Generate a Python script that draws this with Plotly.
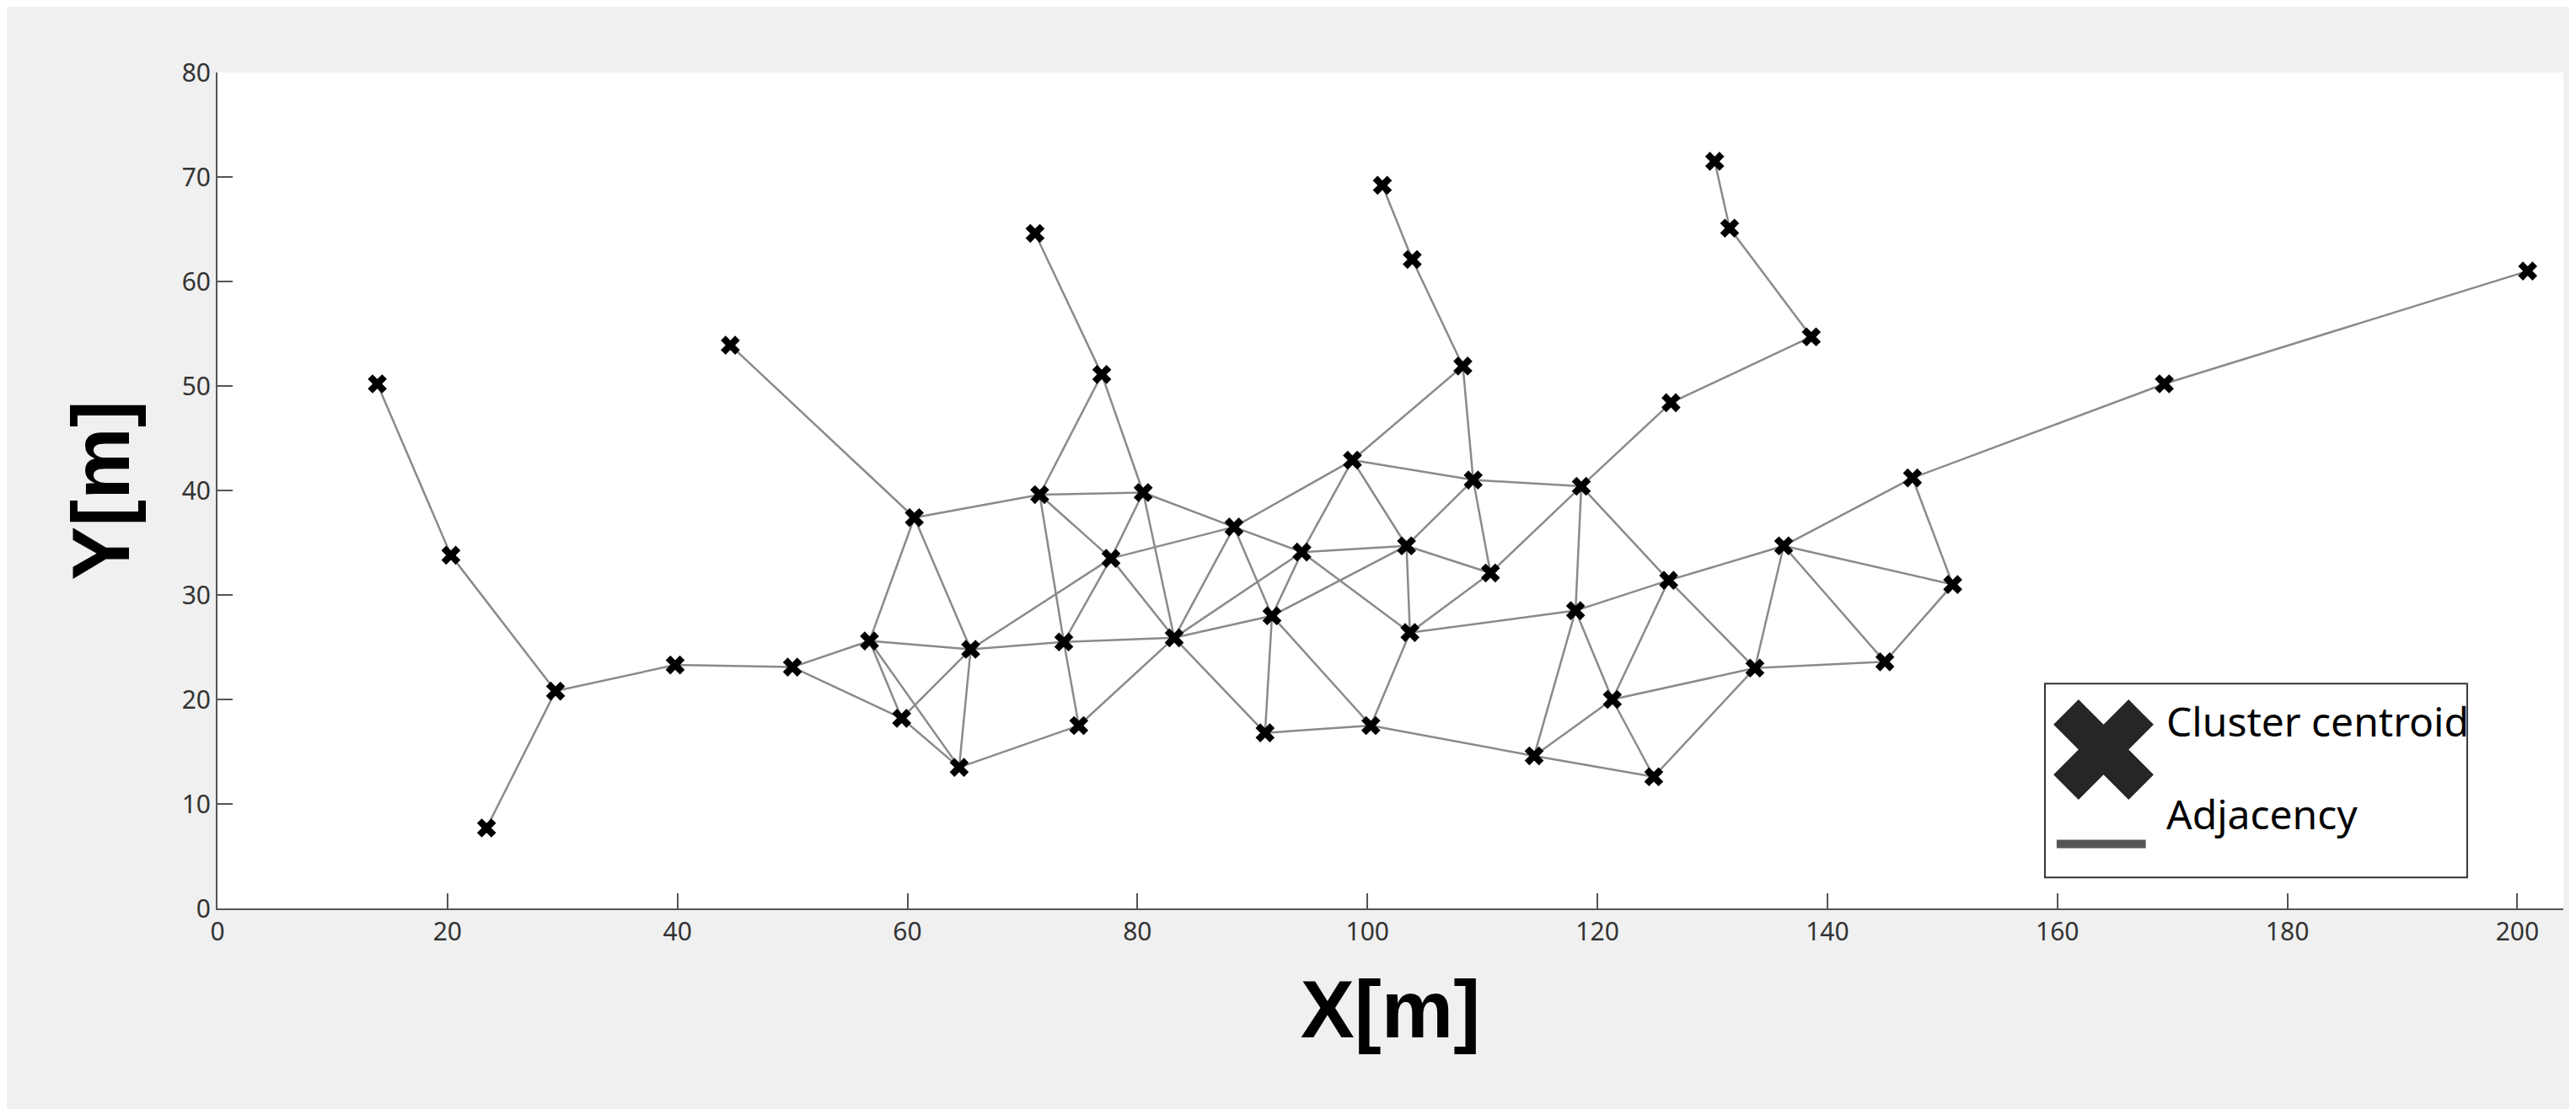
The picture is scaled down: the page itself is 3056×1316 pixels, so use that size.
import plotly.graph_objects as go

names = ["A","B","C","D","E","F","G","H","I","J","K","L","M","N","O","P","Q","R","S","T","U","V","W","X","Y","Z",
         "AA","AB","AC","AD","AE","AF","AG","AH","AI","AJ","AK","AL","AM","AN","AO","AP","AQ","AR","AS","AT","AU","AV","AW","AX"]
xs = [13.9,20.3,29.4,23.4,39.8,50.0,56.7,59.5,64.5,60.6,44.6,65.5,71.5,71.1,76.9,73.6,74.9,77.7,80.5,83.2,88.4,94.3,91.7,91.1,98.7,100.3,
      103.4,103.7,101.3,103.9,108.3,109.2,110.7,114.5,118.1,118.6,121.3,124.9,126.2,126.4,130.2,131.5,133.7,136.2,138.6,145.0,147.4,150.9,169.3,200.9]
ys = [50.2,33.8,20.8,7.7,23.3,23.1,25.6,18.2,13.5,37.4,53.9,24.8,39.6,64.6,51.1,25.5,17.5,33.5,39.8,25.9,36.5,34.1,28.0,16.8,42.9,17.5,
      34.7,26.4,69.2,62.1,51.9,41.0,32.1,14.6,28.5,40.4,20.0,12.6,31.4,48.4,71.5,65.1,23.0,34.7,54.7,23.6,41.2,31.0,50.2,61.0]
edges = ["A-B","B-C","C-D","C-E","E-F","F-G","F-H","G-H","G-I","G-L","G-J","H-L","H-I","J-L","J-K","J-M","L-I","I-Q",
         "L-P","L-R","M-P","M-S","M-O","M-R","N-O","S-O","S-R","S-T","S-U","R-P","R-T","R-U","P-Q","P-T","Q-T","T-U","T-V",
         "T-W","T-X","U-W","U-V","U-Y","V-W","V-AA","V-AB","V-Y","W-AA","W-X","W-Z","X-Z","Z-AB","Z-AH","Y-AA","Y-AF","Y-AE",
         "AE-AF","AE-AD","AC-AD","AF-AA","AF-AG","AF-AJ","AA-AB","AA-AG","AB-AG","AB-AI","AG-AJ","AJ-AI","AJ-AM","AJ-AN",
         "AI-AH","AI-AK","AI-AM","AK-AH","AK-AL","AK-AQ","AH-AL","AL-AQ","AM-AK","AM-AR","AM-AQ","AQ-AR","AR-AT","AR-AU",
         "AR-AV","AU-AV","AT-AV","AQ-AT","AU-AW","AW-AX","AN-AS","AO-AP","AP-AS"]
xticks = list(range(0, 201, 20))
yticks = list(range(0, 81, 10))

pos = {n: (x, y) for n, x, y in zip(names, xs, ys)}
ex, ey = [], []
for e in edges:
    a, b = e.split("-")
    ex += [pos[a][0], pos[b][0], None]
    ey += [pos[a][1], pos[b][1], None]

fig = go.Figure()
fig.add_trace(go.Scatter(x=ex, y=ey, mode="lines", line=dict(color="#8a8a8a", width=2.5),
                         showlegend=False, hoverinfo="skip"))
fig.add_trace(go.Scatter(x=xs, y=ys, mode="markers", showlegend=False,
                         marker=dict(symbol="x", size=20, color="black", line=dict(width=0))))
# legend glyph (overlay axes in 0..1 = paper fraction of plot area)
fig.add_trace(go.Scatter(x=[0.804], y=[0.19], xaxis="x2", yaxis="y2", mode="markers", showlegend=False,
                         marker=dict(symbol="x", size=105, color="#262626", line=dict(width=0)), hoverinfo="skip"))

font = "Noto Sans"
fig.update_layout(
    width=3056, height=1316, paper_bgcolor="#f0f0f0", plot_bgcolor="white",
    margin=dict(l=250, r=23, t=78, b=246),
    font=dict(family=font, color="#262626"),
    xaxis=dict(range=[0, 204], tickvals=xticks, ticks="inside", ticklen=18, tickwidth=2, tickcolor="#555",
               showline=True, linecolor="#555", linewidth=2, showgrid=False, zeroline=False,
               tickfont=dict(size=30, color="#333"),
               title=dict(text="<b>X[m]</b>", font=dict(size=96, family="Liberation Sans", color="black"), standoff=40)),
    yaxis=dict(range=[0, 80], tickvals=yticks, ticks="inside", ticklen=18, tickwidth=2, tickcolor="#555",
               showline=True, linecolor="#555", linewidth=2, showgrid=False, zeroline=False,
               tickfont=dict(size=30, color="#333"),
               title=dict(text="<b>Y[m]</b>", font=dict(size=96, family="Liberation Sans", color="black"), standoff=30)),
    xaxis2=dict(overlaying="x", range=[0, 1], visible=False),
    yaxis2=dict(overlaying="y", range=[0, 1], visible=False),
    shapes=[
        dict(type="rect", xref="paper", yref="paper", x0=0.779, x1=0.959, y0=0.037, y1=0.269,
             line=dict(color="#333", width=2), fillcolor="white", layer="below"),
        dict(type="line", xref="paper", yref="paper", x0=0.784, x1=0.822, y0=0.077, y1=0.077,
             line=dict(color="#555", width=10)),
    ],
    annotations=[
        dict(xref="paper", yref="paper", x=0.830, y=0.19, text="Cluster centroid", showarrow=False,
             xanchor="left", font=dict(size=48, color="black")),
        dict(xref="paper", yref="paper", x=0.830, y=0.079, text="Adjacency", showarrow=False,
             xanchor="left", font=dict(size=48, color="black")),
    ],
)
fig.write_html("out.html")
